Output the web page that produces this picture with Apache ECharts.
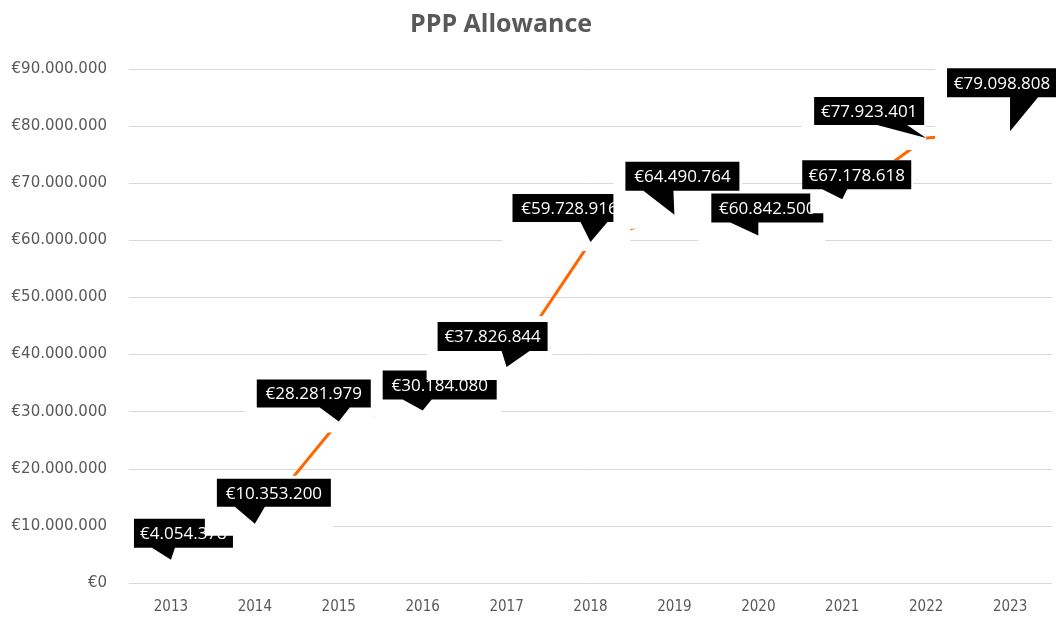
<!DOCTYPE html>
<html>
<head>
<meta charset="utf-8">
<title>PPP Allowance</title>
<script src="https://cdn.jsdelivr.net/npm/echarts@6/dist/echarts.min.js"></script>
<style>
    html, body { margin: 0; padding: 0; background: #fff; }
    #chart { width: 1056px; height: 617px; }
</style>
</head>
<body>
<div id="chart"></div>
<script>
// data
const years = ['2013', '2014', '2015', '2016', '2017', '2018', '2019', '2020', '2021', '2022', '2023'];
const allowance = [4054378, 10353200, 28281979, 30184080, 37826844, 59728916, 64490764, 60842500, 67178618, 77923401, 79098808];

// callout placement relative to each point (box offset, box size, pointer base, white backing rect)
const calloutLayout = [
    { dx: -37, dy: -41, w: 99,  h: 29, base: [18, 41], white: [-43, -48, 64, 6] },
    { dx: -38, dy: -45, w: 114, h: 28, base: [18, 48], white: [-50, -48, 78, 12] },
    { dx: -82, dy: -42, w: 114, h: 28, base: [63, 93], white: [-94, -46, 36, 11] },
    { dx: -40, dy: -40, w: 114, h: 29, base: [20, 49], white: [-48, -43, 79, 10] },
    { dx: -69, dy: -45, w: 110, h: 29, base: [64, 92], white: [-80, -51, 45, 13] },
    { dx: -78, dy: -48, w: 114, h: 28, base: [68, 95], white: [-88, -52, 40, 9] },
    { dx: -49, dy: -53, w: 114, h: 29, base: [18, 48], white: [-61, -60, 68, 14] },
    { dx: -47, dy: -42, w: 112, h: 29, base: [19, 47], white: [-60, -44, 67, 6] },
    { dx: -40, dy: -39, w: 109, h: 29, base: [20, 45], white: [-32, -39, 71, 14] },
    { dx: -112, dy: -41, w: 110, h: 28, base: [63, 93], white: [-124, -46, 0, 12] },
    { dx: -63, dy: -63, w: 110, h: 29, base: [63, 91], white: [-75, -71, 50, 9] }
];

function euro(v) {
    return '€' + String(Math.round(v)).replace(/\B(?=(\d{3})+(?!\d))/g, '.');
}

const chart = echarts.init(document.getElementById('chart'));

chart.setOption({
    animation: false,
    backgroundColor: '#fff',
    title: {
        text: 'PPP Allowance',
        left: 405,
        top: 7,
        textStyle: { fontFamily: 'Open Sans', fontSize: 25, fontWeight: 'bold', color: '#595959' }
    },
    grid: { left: 129, right: 4, top: 69, bottom: 34, containLabel: false },
    xAxis: {
        type: 'category',
        data: years,
        boundaryGap: true,
        axisLine: { show: false },
        axisTick: { show: false },
        axisLabel: { margin: 17, fontFamily: 'DejaVu Sans Condensed', fontSize: 15, color: '#595959' }
    },
    yAxis: {
        type: 'value',
        min: 0,
        max: 90000000,
        interval: 10000000,
        axisLine: { show: false },
        axisTick: { show: false },
        axisLabel: { margin: 22, fontFamily: 'DejaVu Sans', fontSize: 15, color: '#595959', formatter: euro },
        splitLine: { lineStyle: { color: '#d9d9d9', width: 1 } }
    },
    series: [
        {
            type: 'line',
            data: allowance,
            showSymbol: false,
            z: 2,
            lineStyle: { color: '#ff6600', width: 3 }
        },
        {
            // excel style callouts, each drawn with its white backing box
            type: 'custom',
            z: 3,
            data: allowance.map((v, i) => [i, v]),
            renderItem: function (params, api) {
                const i = params.dataIndex;
                const p = api.coord([api.value(0), api.value(1)]);
                const c = calloutLayout[i];
                const L = p[0] + c.dx, T = p[1] + c.dy, R = L + c.w, B = T + c.h;
                return {
                    type: 'group',
                    children: [
                        {
                            type: 'rect',
                            shape: { x: p[0] + c.white[0], y: p[1] + c.white[1], width: c.white[2] - c.white[0], height: c.white[3] - c.white[1] },
                            style: { fill: '#fff' }
                        },
                        {
                            type: 'polygon',
                            shape: { points: [[L, T], [R, T], [R, B], [L + c.base[1], B], [p[0], p[1]], [L + c.base[0], B], [L, B]] },
                            style: { fill: '#000' }
                        },
                        {
                            type: 'text',
                            x: (L + R) / 2,
                            y: (T + B) / 2 + 1,
                            style: { text: euro(api.value(1)), fill: '#fff', font: '17px "Open Sans"', align: 'center', verticalAlign: 'middle' }
                        }
                    ]
                };
            }
        }
    ]
});
</script>
</body>
</html>
